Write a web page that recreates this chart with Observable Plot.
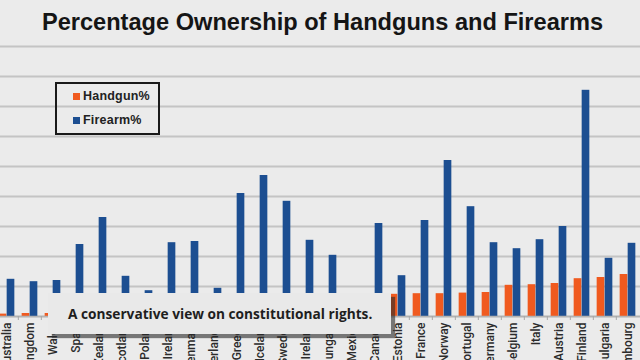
<!DOCTYPE html>
<html>
<head>
<meta charset="utf-8">
<script src="https://cdn.jsdelivr.net/npm/d3@7"></script>
<script src="https://cdn.jsdelivr.net/npm/@observablehq/plot@0.6"></script>
<style>
  html, body { margin: 0; padding: 0; background: #ebebeb; }
  #frame { position: relative; width: 640px; height: 360px; overflow: hidden; background: #ebebeb; }
  #title {
    font: bold 23.6px "Liberation Sans", Arial, sans-serif;
    height: 40px; box-sizing: border-box; padding-top: 6px; line-height: 33px;
    text-align: center; color: #151515; white-space: nowrap; padding-left: 5px;
  }
  #chart svg { display: block; overflow: hidden; }
  #legend {
    position: absolute; left: 55px; top: 82px; width: 105px; height: 53px;
    box-sizing: border-box; border: 2px solid #1a1a1a;
  }
  #legend .sw { position: absolute; left: 16px; width: 7px; height: 7px; }
  #legend .lb {
    font: bold 12.5px "Liberation Sans", Arial, sans-serif;
    position: absolute; left: 26px; line-height: 12px;
    color: #222; white-space: nowrap; letter-spacing: 0.2px;
  }
  #caption {
    font: bold 13.7px "Open Sans", Lato, sans-serif;
    position: absolute; left: 48px; top: 293px; width: 343px; height: 41px;
    background: #e9e9e9; box-shadow: 4px 4px 1px rgba(40, 40, 40, 0.6);
    box-sizing: border-box; padding-left: 20px; line-height: 41px;
    color: #1e1e1e; white-space: nowrap;
  }
</style>
</head>
<body>
<div id="frame">
  <div id="title">Percentage Ownership of Handguns and Firearms</div>
  <div id="chart"></div>
  <div id="legend">
    <div class="sw" style="top: 9px; background: #f05a1f;"></div>
    <div class="lb" style="top: 6px;">Handgun%</div>
    <div class="sw" style="top: 33px; background: #1c4e91;"></div>
    <div class="lb" style="top: 30px;">Firearm%</div>
  </div>
  <div id="caption">A conservative view on constitutional rights.</div>
</div>
<script>
// Countries, ordered by handgun ownership
const countries = [
  "Australia", "United Kingdom", "Wales", "Spain", "New Zealand", "Scotland",
  "Poland", "Ireland", "Denmark", "Netherlands", "Greece", "Iceland", "Sweden",
  "Northern Ireland", "Hungary", "Mexico", "Canada", "Estonia", "France",
  "Norway", "Portugal", "Germany", "Belgium", "Italy", "Austria", "Finland",
  "Bulgaria", "Luxembourg"
];

// Share of households owning a handgun (%)
const handgun = [
  0.4, 0.5, 0.5, 0.7, 0.9, 1.0, 1.2, 1.4, 1.6, 1.8, 2.0, 2.3, 2.5,
  2.8, 3.0, 3.2, 3.5, 3.7, 3.8, 3.8, 3.9, 4.0, 5.2, 5.3, 5.5, 6.3,
  6.5, 7.0
];

// Share of households owning any firearm (%)
const firearm = [
  6.2, 5.8, 6.0, 12.0, 16.5, 6.7, 4.3, 12.3, 12.5, 4.7, 20.5, 23.5, 19.2,
  12.7, 10.2, 2.5, 15.5, 6.8, 16.0, 26.0, 18.3, 12.3, 11.3, 12.8, 15.0, 37.7,
  9.7, 12.2
];

const yTicks = [0, 5, 10, 15, 20, 25, 30, 35, 40, 45];

const rows = countries.map((country, i) => ({country, handgun: handgun[i], firearm: firearm[i]}));

const W = 640, H = 320;
const xRange = [-9.67, 643.67];
const step = (xRange[1] - xRange[0]) / countries.length;
const barW = 8;

const plot = Plot.plot({
  width: W,
  height: H,
  marginTop: 6,
  marginBottom: 44,
  marginLeft: 0,
  marginRight: 0,
  style: {background: "transparent", overflow: "hidden"},
  x: {domain: countries, range: xRange, padding: 0, label: null},
  y: {domain: [0, 45], axis: null},
  marks: [
    Plot.gridY(yTicks, {stroke: "#c4c4c4", strokeWidth: 2, strokeOpacity: 1}),
    Plot.barY(rows, {
      x: "country", y: "handgun", fill: "#f05a1f",
      insetLeft: step / 2 - barW, insetRight: step / 2
    }),
    Plot.barY(rows, {
      x: "country", y: "firearm", fill: "#1c4e91",
      insetLeft: step / 2, insetRight: step / 2 - barW
    }),
    Plot.ruleY([0], {stroke: "#b3b3b3", strokeWidth: 1.5}),
    Plot.axisX({tickSize: 4, text: null, label: null, dx: -step / 2, stroke: "#a8a8a8"}),
    Plot.axisX({
      tickSize: 0, tickPadding: 6, tickRotate: -90, label: null,
      fontSize: 12, fill: "#2b2b2b", fontWeight: 500,
      fontFamily: "Roboto, sans-serif"
    })
  ]
});

document.getElementById("chart").appendChild(plot);
</script>
</body>
</html>
